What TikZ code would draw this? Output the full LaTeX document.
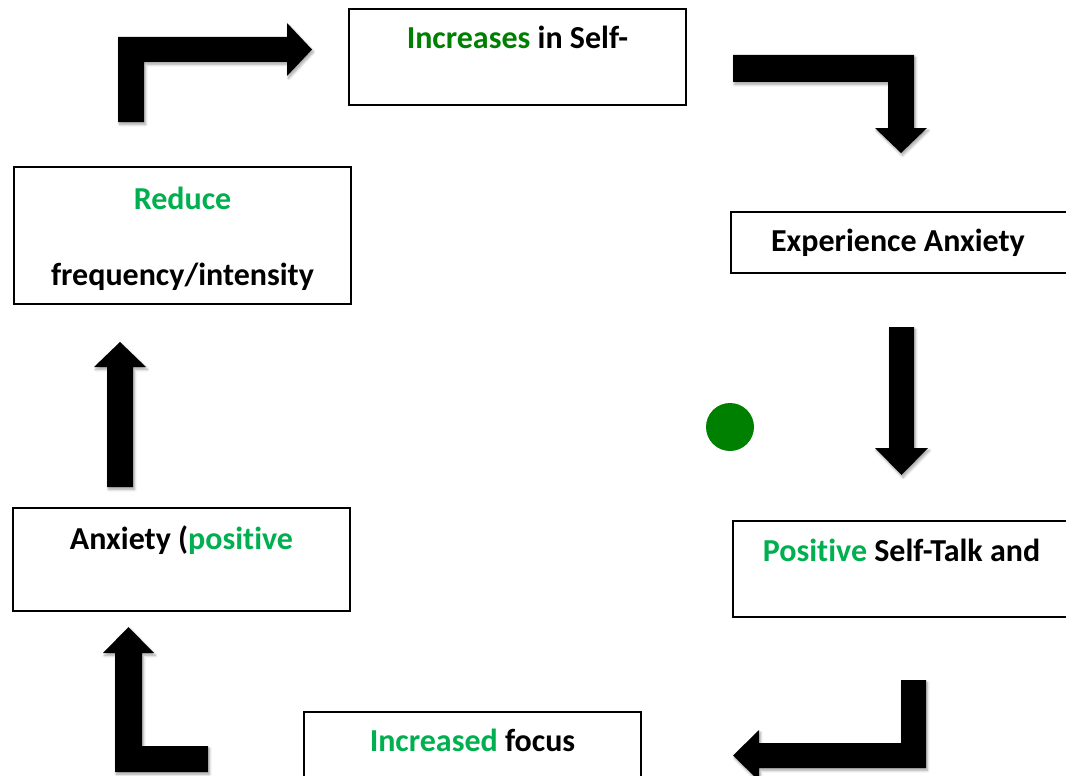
\documentclass[tikz,border=0pt]{standalone}
\usepackage{fontspec}
\setmainfont[Ligatures={NoCommon}]{Carlito}
\usetikzlibrary{shadows.blur}
\definecolor{leafgreen}{RGB}{0,176,80}
\definecolor{deepgreen}{RGB}{0,128,0}
\begin{document}
\begin{tikzpicture}[x=1pt,y=-1pt,
  stepbox/.style={draw=black,line width=1.4pt,fill=white},
  label/.style={anchor=base,font=\fontsize{32}{36}\selectfont\bfseries,inner sep=0pt},
  blockarrow/.style={fill=black,draw=none,
    blur shadow={shadow xshift=1.5pt,shadow yshift=-2.5pt,shadow blur radius=2.5pt,shadow blur steps=6,shadow opacity=35}}]
\useasboundingbox (0,0) rectangle (1066,776);
\clip (0,0) rectangle (1066,776);

% boxes of the cycle
\draw[stepbox] (349,9) rectangle (686,105);
\draw[stepbox] (14,167) rectangle (351,304);
\draw[stepbox] (731,212) rectangle (1068,273);
\draw[stepbox] (733,521) rectangle (1070,617);
\draw[stepbox] (13,508) rectangle (350,611);
\draw[stepbox] (304,712) rectangle (641,790);

% box texts
\node[label] (selfeff) at (517.5,49) {\textcolor{deepgreen}{Increases} in Self-};
\node[label] (reduce) at (182.5,209) {\textcolor{leafgreen}{Reduce}};
\node[label] (freq) at (182.5,285) {frequency/intensity};
\node[label] (experience) at (898,251) {Experience Anxiety};
\node[label] (selftalk) at (901.5,561) {\textcolor{leafgreen}{Positive} Self-Talk and};
\node[label] (anxiety) at (181.5,549) {Anxiety (\textcolor{leafgreen}{positive}};
\node[label] (focus) at (472.5,751) {\textcolor{leafgreen}{Increased} focus};

% green dot
\fill[deepgreen] (730,427) circle (24);

% block arrows around the cycle
\fill[blockarrow] (118,122) -- (118,37) -- (287,37) -- (287,23) -- (312,49.5)
  -- (287,76) -- (287,62) -- (144,62) -- (144,122) -- cycle;
\fill[blockarrow] (733,55) -- (914,55) -- (914,128) -- (927,128) -- (901,153)
  -- (875,128) -- (888,128) -- (888,82) -- (733,82) -- cycle;
\fill[blockarrow] (889,327) -- (914,327) -- (914,448) -- (928,448) -- (901.5,475)
  -- (875,448) -- (889,448) -- cycle;
\fill[blockarrow] (901,680) -- (926,680) -- (926,768) -- (759,768) -- (759,781)
  -- (733,755.5) -- (759,730) -- (759,743) -- (901,743) -- cycle;
\fill[blockarrow] (107,487) -- (107,367) -- (94,367) -- (120,342) -- (146,367)
  -- (133,367) -- (133,487) -- cycle;
\fill[blockarrow] (115,772) -- (115,653) -- (103,653) -- (128.5,627) -- (154,653)
  -- (142,653) -- (142,746) -- (208,746) -- (208,772) -- cycle;
\end{tikzpicture}
\end{document}
